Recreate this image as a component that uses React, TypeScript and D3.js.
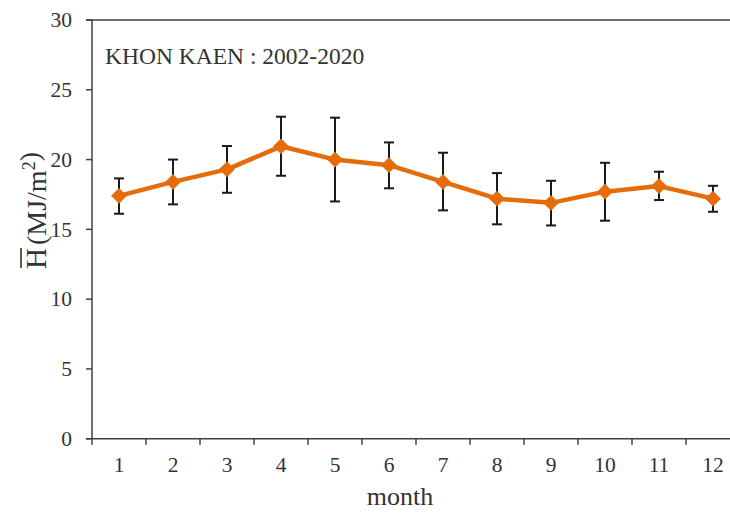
import React from "react";
import * as d3 from "d3";

const months = ["1", "2", "3", "4", "5", "6", "7", "8", "9", "10", "11", "12"];
const meanH = [17.4, 18.4, 19.3, 20.95, 20.0, 19.6, 18.4, 17.2, 16.9, 17.7, 18.1, 17.2];
const errTop = [18.65, 20.0, 20.97, 23.07, 23.0, 21.23, 20.49, 19.03, 18.48, 19.77, 19.13, 18.12];
const errBottom = [16.12, 16.79, 17.62, 18.84, 17.0, 17.94, 16.36, 15.36, 15.28, 15.62, 17.1, 16.26];
const yTicks = [0, 5, 10, 15, 20, 25, 30];
const title = "KHON KAEN : 2002-2020";

export default function App() {
  const W = 730, H = 513;
  const left = 92, right = 740, top = 20, bottom = 438.7;
  const x = d3.scaleBand().domain(months).range([left, right]).padding(0);
  const y = d3.scaleLinear().domain([0, 30]).range([bottom, top]);
  const cx = (m: string) => (x(m) as number) + x.bandwidth() / 2;
  const line = d3.line<number>().x((_, i) => cx(months[i])).y((d) => y(d));
  const axisColor = "#404040";
  const textColor = "#333333";
  const orange = "#E46C0A";
  const font = '"Liberation Serif", "Times New Roman", Times, serif';
  const ts = { fontFamily: font };
  const boundaries = months.map((m) => x(m) as number).concat([right]);
  const diamond = d3.symbol().type(d3.symbolDiamond2).size(160)();

  return (
    <svg width={W} height={H} style={{ position: "absolute", left: 0, top: 0, background: "#fff", fontFamily: font }}>
      {/* axes */}
      <line x1={left} x2={left} y1={top} y2={bottom} stroke={axisColor} strokeWidth={1.5} />
      <line x1={left - 6} x2={right} y1={top} y2={top} stroke={axisColor} strokeWidth={1.5} />
      <line x1={left - 6} x2={right} y1={bottom} y2={bottom} stroke={axisColor} strokeWidth={1.5} />
      {yTicks.map((t) => (
        <g key={t}>
          <line x1={left - 6} x2={left} y1={y(t)} y2={y(t)} stroke={axisColor} strokeWidth={1.5} />
          <text x={left - 20} y={y(t)} dy="0.34em" textAnchor="end" fontSize={21.5} fill={textColor} style={ts}>{t}</text>
        </g>
      ))}
      {boundaries.map((b, i) => (
        <line key={i} x1={b} x2={b} y1={bottom} y2={bottom + 6} stroke={axisColor} strokeWidth={1.5} />
      ))}
      {months.map((m) => (
        <text key={m} x={cx(m)} y={472} textAnchor="middle" fontSize={21.5} fill={textColor} style={ts}>{m}</text>
      ))}
      <text x={400} y={505} textAnchor="middle" fontSize={26} fill={textColor} style={ts}>month</text>
      <g transform="translate(46, 269) rotate(-90)">
        <line x1={1} x2={21} y1={-25} y2={-25} stroke={textColor} strokeWidth={1.6} />
        <text x={0} y={0} fill={textColor} style={ts}>
          <tspan fontSize={29}>H</tspan>
          <tspan fontSize={28} dx={3}>(MJ/m</tspan>
          <tspan fontSize={18} dy={-11}>2</tspan>
          <tspan fontSize={28} dy={4}>)</tspan>
        </text>
      </g>
      <text x={105} y={64} fontSize={23.5} fill={textColor} style={ts}>{title}</text>
      {/* error bars */}
      {months.map((m, i) => (
        <g key={m} stroke="#1a1a1a" strokeWidth={2}>
          <line x1={cx(m)} x2={cx(m)} y1={y(errTop[i])} y2={y(errBottom[i])} />
          <line x1={cx(m) - 5} x2={cx(m) + 5} y1={y(errTop[i])} y2={y(errTop[i])} />
          <line x1={cx(m) - 5} x2={cx(m) + 5} y1={y(errBottom[i])} y2={y(errBottom[i])} />
        </g>
      ))}
      <path d={line(meanH) || ""} fill="none" stroke={orange} strokeWidth={4.5} strokeLinejoin="round" />
      {meanH.map((v, i) => (
        <path key={i} d={diamond || ""} transform={`translate(${cx(months[i])},${y(v)})`} fill={orange} />
      ))}
    </svg>
  );
}
